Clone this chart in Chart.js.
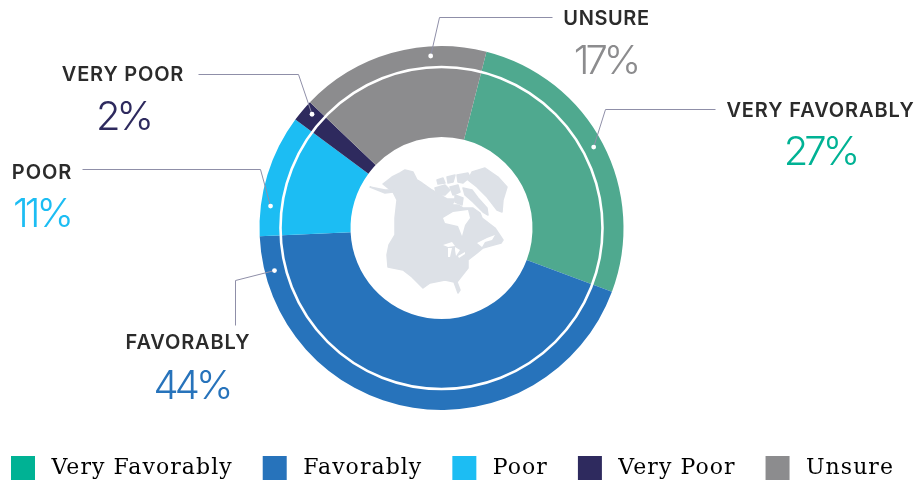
<!DOCTYPE html>
<html><head><meta charset="utf-8">
<style>html,body{margin:0;padding:0;background:#fff}#w{width:917px;height:485px;position:relative}</style>
<script src="https://cdn.jsdelivr.net/npm/chart.js@4"></script>
</head><body><div id="w"><canvas id="c" width="917" height="485"></canvas></div>
<script>
const categories = ['Very Favorably','Favorably','Poor','Very Poor','Unsure'];
const values = [27,44,11,2,17];
const sliceColors = ['#4FA98F','#2773BB','#1CBDF3','#2E2A5E','#8C8C8E'];
const legendColors = ['#00B294','#2773BB','#1CBDF3','#2E2A5E','#8C8C8E'];
const calloutNames = ['VERY FAVORABLY','FAVORABLY','POOR','VERY POOR','UNSURE'];
const calloutColors = ['#00B294','#2773BB','#1CBDF3','#2E2A5E','#8C8C8E'];
const callouts = [
 {dot:62, line:[[605,109],[715,109]], name:[820.5,111], pct:[820,151], ls:0.9},
 {dot:255.7,line:[[235,280],[235,325]], name:[188,343], pct:[191.5,385], ls:0.85},
 {dot:277.3,line:[[260,169],[82,169]], name:[42,173], pct:[41.5,213], ls:0.9},
 {dot:-48.7,line:[[298,74],[198,74]], name:[123,75], pct:[123,116], ls:0.8},
 {dot:-3.6,line:[[439,17],[552,17]], name:[606.5,19], pct:[605.5,60], ls:0.6}
];
const plotBox={left:259.5,right:623.5,top:46,bottom:410};
const mapOrigin=[441,228];
const mapLand = [
 [[383,184],[392,177],[400,173],[405,170],[413,172],[417,180],[422,183],[432,190],[440,195],[447,199],[455,199],[452,205],[458,205],[463,208],[467,208],[473,208],[480,213],[482,218],[495,228],[503,240],[501,243],[490,246],[483,248],[477,253],[468,260],[468,268],[457,282],[460,290],[458,293],[454,282],[445,280],[430,283],[423,288],[412,277],[403,270],[388,267],[387,255],[389,245],[395,235],[395,218],[397,200],[393,192]],
 [[370,187],[385,190],[393,190],[393,192],[385,193]],
 [[468,180],[472,172],[485,168],[498,177],[507,187],[503,200],[502,212],[497,210],[487,197],[477,187]],
 [[437,180],[443,178],[445,183],[438,184]],
 [[447,177],[455,175],[453,182],[448,183]],
 [[457,175],[468,173],[470,177],[463,183],[458,182]],
 [[435,188],[445,185],[450,190],[445,195],[437,195]],
 [[450,187],[458,185],[460,192],[453,195]],
 [[463,188],[472,190],[478,198],[487,208],[488,215],[483,212],[473,202],[465,195]],
 [[455,195],[463,198],[462,205],[455,202]]
];
const mapWater = [
 [[443,218],[453,212],[468,210],[470,218],[465,225],[462,236],[458,226],[445,223]],
 [[443,245],[452,242],[455,246],[448,247]],
 [[448,248],[452,248],[450,257],[448,257]],
 [[455,247],[460,250],[456,256],[455,250]],
 [[458,256],[465,252],[465,254],[459,258]],
 [[477,243],[487,238],[495,235],[492,240],[485,242],[482,247]]
];
const ringPlugin={id:'ring',
 beforeLayout(chart){chart.ctx.letterSpacing='1.05px';},
 afterLayout(chart){Object.assign(chart.chartArea,plotBox,{width:plotBox.right-plotBox.left,height:plotBox.bottom-plotBox.top});},
 afterDatasetsDraw(chart){
 const ctx=chart.ctx, arc=chart.getDatasetMeta(0).data[0];
 const {x,y,outerRadius:R}=arc;
 ctx.save();
 ctx.strokeStyle='#fff';ctx.lineWidth=2.6;
 ctx.beginPath();ctx.arc(x,y,161,0,Math.PI*2);ctx.stroke();
 const tr=p=>[x+p[0]-mapOrigin[0]-0.5,y+p[1]-mapOrigin[1]];
 const poly=(arr,col,w)=>{ctx.fillStyle=col;ctx.strokeStyle=col;ctx.lineWidth=w;ctx.lineJoin='round';arr.forEach(s=>{ctx.beginPath();s.forEach((p,i)=>{const q=tr(p);i?ctx.lineTo(q[0],q[1]):ctx.moveTo(q[0],q[1]);});ctx.closePath();ctx.fill();if(w)ctx.stroke();});};
 poly(mapLand,'#DDE1E7',1.5);poly(mapWater,'#fff',0);
 callouts.forEach((c,i)=>{
  const a=(c.dot-90)*Math.PI/180, dx=x+Math.cos(a)*R*0.947, dy=y+Math.sin(a)*R*0.947;
  ctx.strokeStyle='#8F8FA8';ctx.lineWidth=1;ctx.beginPath();ctx.moveTo(dx,dy);
  c.line.forEach(p=>ctx.lineTo(p[0]+.5,p[1]+.5));ctx.stroke();
  ctx.fillStyle='#fff';ctx.beginPath();ctx.arc(dx,dy,2.4,0,Math.PI*2);ctx.fill();
  ctx.textAlign='center';ctx.textBaseline='middle';
  ctx.letterSpacing=c.ls+'px';
  ctx.font='600 20px Inter';ctx.fillStyle='#2B2B2B';
  ctx.fillText(calloutNames[i],c.name[0],c.name[1]);
  ctx.letterSpacing='-4px';
  ctx.font='350 40px Inter';ctx.fillStyle=calloutColors[i];
  ctx.fillText(values[i]+'%',c.pct[0],c.pct[1]+1.5);
 });
 ctx.restore();
}};
new Chart(document.getElementById('c'),{
 type:'doughnut',
 data:{labels:categories,datasets:[{data:values,backgroundColor:sliceColors,borderWidth:0}]},
 options:{
  responsive:false,animation:false,rotation:14.3,cutout:'50%',
  layout:{padding:{top:30,bottom:-5,left:-19,right:-30}},
  plugins:{tooltip:{enabled:false},
   legend:{position:'bottom',align:'start',
    labels:{boxWidth:24,boxHeight:24,padding:30,color:'#4A4A4A',
     font:{family:'"DejaVu Serif"',size:22},
     generateLabels(){return categories.map((t,i)=>({text:'\u2009'+t,fillStyle:legendColors[i],strokeStyle:legendColors[i],lineWidth:0,index:i,hidden:false}));}}}}
 },
 plugins:[ringPlugin]
});
</script></body></html>
